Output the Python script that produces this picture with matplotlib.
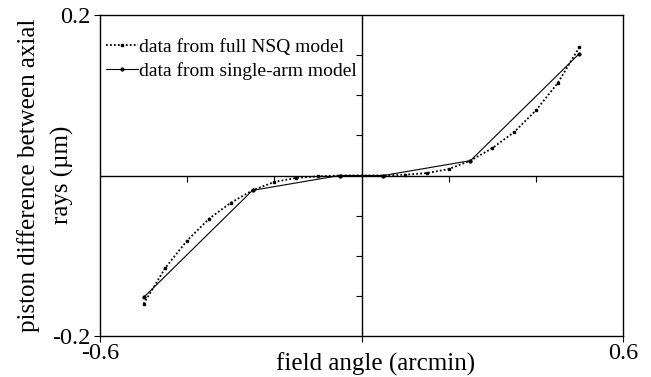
import numpy as np
import matplotlib.pyplot as plt

plt.rcParams['font.family'] = ['Liberation Serif', 'DejaVu Serif']

# field angle (arcmin)
x_full = [-0.5, -0.45, -0.4, -0.35, -0.3, -0.25, -0.2, -0.15, -0.1, -0.05,
          0.05, 0.1, 0.15, 0.2, 0.25, 0.3, 0.35, 0.4, 0.45, 0.5]
# piston difference (um), full NSQ model
y_full = [-0.160, -0.115, -0.081, -0.054, -0.034, -0.0185, -0.008, -0.003, -0.001, 0.0,
          0.0, 0.001, 0.003, 0.008, 0.0185, 0.034, 0.054, 0.081, 0.115, 0.160]

# single-arm model
x_single = [-0.5, -0.25, -0.05, 0.05, 0.25, 0.5]
y_single = [-0.152, -0.0185, 0.0, 0.0, 0.0185, 0.152]

fig = plt.figure(figsize=(6.51, 3.77), dpi=100)
ax = fig.add_axes([100 / 651, 1 - 336 / 377, 523 / 651, 321 / 377])

ax.plot(x_full, y_full, color='black', linestyle=(0, (1, 1.2)), linewidth=1.3,
        marker='s', markersize=1.8, label='data from full NSQ model')
ax.plot(x_single, y_single, color='black', linestyle='-', linewidth=0.8,
        marker='o', markersize=2, label='data from single-arm model')

# axes through the origin
ax.axhline(0, color='black', linewidth=1.0, zorder=1)
ax.axvline(0, color='black', linewidth=1.0, zorder=1)
ax.plot([-0.4, -0.2, 0.2, 0.4], [0, 0, 0, 0], linestyle='none', marker=3,
        markersize=4, color='black', markeredgewidth=0.8)
ax.plot([0, 0, 0, 0, 0, 0], [-0.15, -0.1, -0.05, 0.05, 0.1, 0.15], linestyle='none',
        marker=0, markersize=4, color='black', markeredgewidth=0.8)

ax.set_xlim(-0.6, 0.6)
ax.set_ylim(-0.2, 0.2)
ax.set_xticks([-0.6, 0, 0.6])
ax.set_xticklabels(['-0.6', '', '0.6'])
ax.set_yticks([-0.2, 0.2])
ax.set_yticklabels(['-0.2', '0.2'])
ax.tick_params(axis='both', labelsize=17.5, length=4, width=0.8, pad=1)
ax.tick_params(axis='y', pad=3)
for s in ax.spines.values():
    s.set_linewidth(1.0)

# axis titles
fig.text(376 / 651, 1 - 364 / 377, 'field angle (arcmin)', fontsize=18,
         ha='center', va='center')
fig.text(29 / 651, 1 - 175 / 377, 'piston difference between axial',
         fontsize=18, rotation=90, ha='center', va='center')
fig.text(62 / 651, 1 - 175 / 377, 'rays (\u00b5m)',
         fontsize=18, rotation=90, ha='center', va='center')

ax.legend(loc='upper left', frameon=False, fontsize=14, handlelength=1.6,
          handletextpad=0.1, borderaxespad=0.2, labelspacing=0.35,
          bbox_to_anchor=(-0.01, 0.965))

fig.savefig('out.png', dpi=100)
